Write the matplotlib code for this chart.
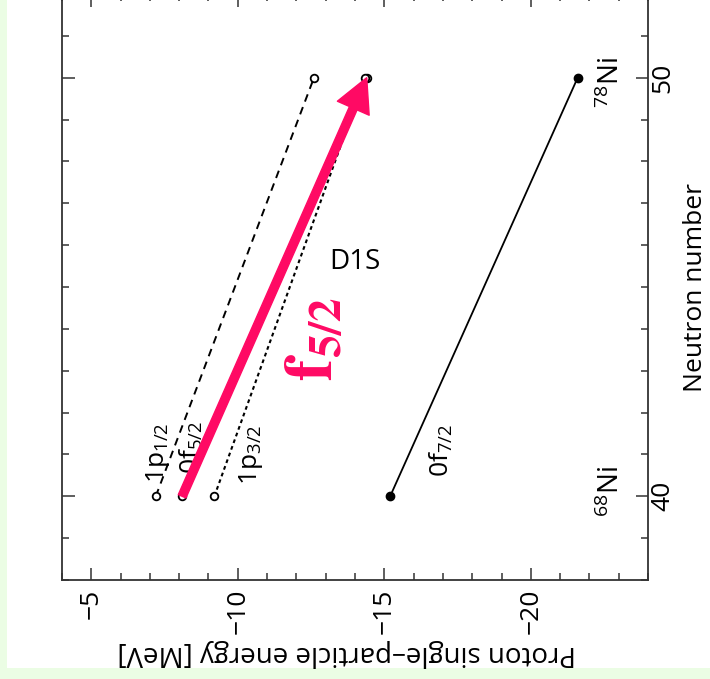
import matplotlib
matplotlib.use("Agg")
import matplotlib.pyplot as plt
from matplotlib.patches import Rectangle, FancyArrowPatch
from matplotlib.ticker import MultipleLocator

# -----------------------------
# data
# -----------------------------
neutrons = [40, 50]
e_0f72 = [-15.2, -21.6]
e_1p12 = [-7.2, -12.6]
e_0f52 = [-8.1, -14.4]
e_1p32 = [-9.2, -14.35]

nuclei = ["$^{68}$Ni", "$^{78}$Ni"]

pink = "#ff0a64"
bg = "#ebfde4"

plt.rcParams["font.family"] = ["Open Sans", "DejaVu Sans"]
plt.rcParams["mathtext.fontset"] = "custom"
plt.rcParams["mathtext.rm"] = "Open Sans"
plt.rcParams["mathtext.it"] = "Open Sans"

fig = plt.figure(figsize=(7.10, 6.79), dpi=100)
fig.patch.set_facecolor(bg)
fig.patches.append(Rectangle((7 / 710, 11 / 679), 1, 1, transform=fig.transFigure,
                             facecolor="white", edgecolor="none", zorder=-10))

ax = fig.add_axes([62 / 710, 99 / 679, 586 / 710, 586 / 679])
ax.set_facecolor("white")

# levels
ax.plot(e_0f72, neutrons, color="black", lw=1.3, marker="o", ms=6, zorder=3)
ax.plot(e_1p12, neutrons, color="black", lw=1.4, ls=(0, (4, 3)), marker="o", ms=5.5,
        mfc="white", mec="black", mew=1.3, zorder=3)
ax.plot(e_0f52, neutrons, color="black", lw=1.4, ls=(0, (4, 3)), marker="o", ms=5.5,
        mfc="white", mec="black", mew=1.3, zorder=3)
ax.plot(e_1p32, neutrons, color="black", lw=1.5, ls=(0, (1.8, 1.6)), marker="o", ms=5.5,
        mfc="white", mec="black", mew=1.3, zorder=3)

# pink arrow along the 0f5/2 level
arrow = FancyArrowPatch((e_0f52[0], neutrons[0]), (e_0f52[1], neutrons[1]),
                        arrowstyle="simple,head_length=24,head_width=25,tail_width=6",
                        mutation_scale=1, shrinkA=0, shrinkB=0,
                        color=pink, zorder=4)
ax.add_patch(arrow)

# level labels
ax.text(-7.26, 40.32, "$\\mathregular{1p_{1/2}}$", rotation=90, ha="center", va="bottom", fontsize=19)
ax.text(-8.4, 40.53, "$\\mathregular{0f_{5/2}}$", rotation=90, ha="center", va="bottom", fontsize=19)
ax.text(-10.45, 40.28, "$\\mathregular{1p_{3/2}}$", rotation=90, ha="center", va="bottom", fontsize=19)
ax.text(-16.95, 40.45, "$\\mathregular{0f_{7/2}}$", rotation=90, ha="center", va="bottom", fontsize=19)

ax.text(-22.75, 40.12, nuclei[0], rotation=90, ha="center", va="center", fontsize=20)
ax.text(-22.75, 49.88, nuclei[1], rotation=90, ha="center", va="center", fontsize=20)

ax.text(-14.0, 45.6, "D1S", ha="center", va="center", fontsize=20)

ax.text(-12.64, 43.76, "$\\mathbf{f}_{\\mathbf{5/2}}$", rotation=90, ha="center", va="center",
        fontsize=48, color=pink, math_fontfamily="stix")

# axes
ax.set_xlim(-4, -24)
ax.set_ylim(38, 52)
ax.xaxis.set_major_locator(MultipleLocator(5))
ax.xaxis.set_minor_locator(MultipleLocator(1))
ax.yaxis.set_major_locator(MultipleLocator(10))
ax.yaxis.set_minor_locator(MultipleLocator(1))

ax.tick_params(which="both", direction="in", top=True, right=True, left=True, bottom=True,
               labelleft=False, labelright=True, width=1.1, color="#333333")
ax.tick_params(which="major", length=9, labelsize=19)
ax.tick_params(which="minor", length=5)
ax.tick_params(axis="x", labelrotation=90, pad=6)
ax.tick_params(axis="y", labelrotation=90, pad=2)
for lab in ax.get_yticklabels():
    lab.set_verticalalignment("center")

for sp in ax.spines.values():
    sp.set_linewidth(1.3)
    sp.set_color("#333333")

ax.set_xlabel("Proton single\u2013particle energy [MeV]", fontsize=20, rotation=180)
ax.xaxis.set_label_coords(0.485, -0.1)
ax.yaxis.set_label_position("right")
ax.set_ylabel("Neutron number", fontsize=19, rotation=90)
ax.yaxis.set_label_coords(1.06, 0.5)

fig.savefig("out.png", dpi=100, facecolor=fig.get_facecolor())
